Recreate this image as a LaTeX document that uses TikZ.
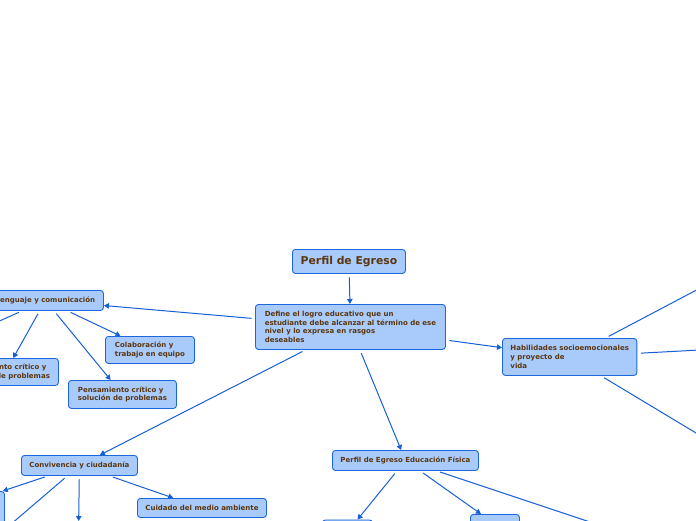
\documentclass[tikz,border=0pt]{standalone}
\usepackage{fontspec}
\setmainfont{DejaVu Sans}
\usetikzlibrary{arrows.meta, positioning}
\definecolor{nodeblue}{RGB}{168,203,252}
\definecolor{borderblue}{RGB}{28,102,222}
\definecolor{linkblue}{RGB}{22,96,214}
\definecolor{textbrown}{RGB}{92,54,14}
\newcommand{\mapfont}{\fontsize{7pt}{8.6pt}\selectfont\bfseries}

\begin{document}
\begin{tikzpicture}[
    x=1pt, y=-1pt,
    >={Triangle[length=5pt, width=5.5pt]},
    % Block styles
    mapblock/.style={
        rectangle, draw=borderblue, fill=nodeblue,
        text=textbrown, font=\mapfont,
        anchor=north west, align=left,
        inner xsep=8pt, inner ysep=2pt,
        rounded corners=3pt, line width=0.9pt
    },
    titleblock/.style={
        mapblock, align=center,
        font=\fontsize{10.8pt}{12pt}\selectfont\bfseries
    },
    arrow/.style={
        ->, line width=1pt, color=linkblue, shorten <=3.5pt
    },
]
\useasboundingbox (0,0) rectangle (696,520);

% ===== CENTRE =====
\node[titleblock, minimum width=113pt, minimum height=24pt] (title) at (292,249) {Perfil de Egreso};
\node[mapblock, minimum width=190pt, minimum height=45pt] (define) at (255,304) {Define el logro educativo que un\\estudiante debe alcanzar al término de ese\\nivel y lo expresa en rasgos\\deseables};

% ===== LENGUAJE Y COMUNICACION =====
\node[mapblock, minimum width=116pt, minimum height=20pt] (lenguaje) at (-13,290) {Lenguaje y comunicación};
\node[mapblock, minimum width=89pt, minimum height=27pt] (colab) at (105,336) {Colaboración y\\trabajo en equipo};
\node[mapblock, minimum width=108pt, minimum height=28pt] (pensa) at (68,380) {Pensamiento crítico y\\solución de problemas};
\node[mapblock, minimum width=106pt, minimum height=27pt] (pensb) at (-48,358) {Pensamiento crítico y\\solución de problemas};
\coordinate (lengleft) at (-70,352);

% ===== CONVIVENCIA =====
\node[mapblock, minimum width=114pt, minimum height=20pt] (conv) at (21,455) {Convivencia y ciudadanía};
\node[mapblock, minimum width=127pt, minimum height=19pt] (cuidado) at (137,498) {Cuidado del medio ambiente};
\node[mapblock, minimum width=168pt, minimum height=54pt] (convleft) at (-164,491) {};
\node[mapblock, minimum width=100pt, minimum height=30pt] (convdown) at (28,521) {};
\coordinate (convdiag) at (-25,555);

% ===== EDUCACION FISICA =====
\node[mapblock, minimum width=145pt, minimum height=20pt] (fisica) at (332,450) {Perfil de Egreso Educación Física};
\node[mapblock, minimum width=50pt, minimum height=24pt] (fisleft) at (322,519.5) {};
\node[mapblock, minimum width=49pt, minimum height=19pt] (fisright) at (470,514) {};
\coordinate (fisfar) at (650,542);

% ===== HABILIDADES =====
\node[mapblock, minimum width=134pt, minimum height=37pt] (hab) at (502,338) {Habilidades socioemocionales\\y proyecto de\\vida};
\coordinate (habup) at (760,256.5);
\coordinate (habmid) at (780,345.7);
\coordinate (habdown) at (760,471.5);

% ===== ARROWS =====
% Title to definition
\draw[arrow] (title) -- (define);

% Definition to main branches
\draw[arrow] (define) -- (lenguaje);
\draw[arrow] (define) -- (conv);
\draw[arrow] (define) -- (fisica);
\draw[arrow] (define) -- (hab);

% Lenguaje branch
\draw[arrow] (lenguaje) -- (lengleft);
\draw[arrow] (lenguaje) -- (pensb);
\draw[arrow] (lenguaje) -- (pensa);
\draw[arrow] (lenguaje) -- (colab);

% Convivencia branch
\draw[arrow] (conv) -- (convleft);
\draw[arrow] (conv) -- (convdiag);
\draw[arrow] (conv) -- (convdown);
\draw[arrow] (conv) -- (cuidado);

% Educacion fisica branch
\draw[arrow] (fisica) -- (fisleft);
\draw[arrow] (fisica) -- (fisright);
\draw[arrow] (fisica) -- (fisfar);

% Habilidades branch
\draw[arrow] (hab) -- (habup);
\draw[arrow] (hab) -- (habmid);
\draw[arrow] (hab) -- (habdown);

\end{tikzpicture}
\end{document}
